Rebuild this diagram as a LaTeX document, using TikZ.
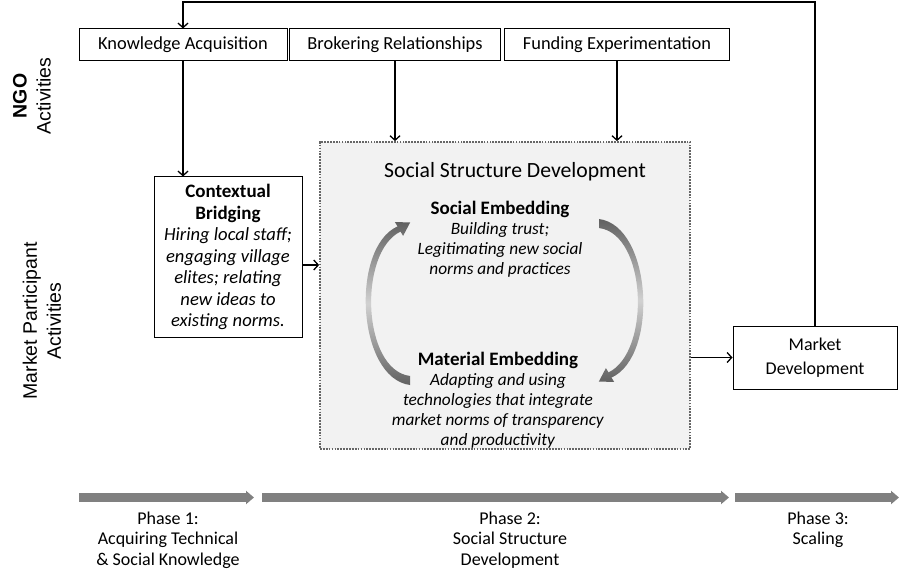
\documentclass[tikz,border=0pt]{standalone}
\usepackage{fontspec}
\setmainfont{Carlito}
\newfontfamily\arialf{Liberation Sans}
\usetikzlibrary{arrows.meta}
\newcommand{\bfl}[1]{{\fontsize{19}{20}\selectfont\bfseries #1}}
\begin{document}
\begin{tikzpicture}[x=1pt,y=-1pt,
  box/.style={draw,line width=1pt,fill=white,inner sep=0pt,align=center},
  topbox/.style={box,minimum height=32pt,font=\fontsize{18.4}{20}\selectfont},
  arr/.style={line width=1.3pt,-{Straight Barb[length=4.5pt,width=10pt,line width=1.3pt]}},
  phasearr/.style={line width=9pt,draw=black!50,-{Triangle[length=8pt,width=13pt]}},
  phaselbl/.style={align=center,font=\fontsize{18}{20.5}\selectfont},
  sidelbl/.style={rotate=90,align=center,font=\arialf\fontsize{19.5}{24}\selectfont},
  emb/.style={align=center,font=\fontsize{17.3}{20}\selectfont},
  crescent/.style={top color=black!62,bottom color=black!62,middle color=black!18}
]
\useasboundingbox (0,0) rectangle (900,580);

% side labels
\node[sidelbl] (ngo) at (32,96) {\textbf{NGO}\\Activities};
\node[sidelbl] (mpa) at (42,321) {Market Participant\\Activities};

% top boxes
\node[topbox,minimum width=208pt] (ka) at (183,45) {Knowledge Acquisition};
\node[topbox,minimum width=211pt] (br) at (395,45) {Brokering Relationships};
\node[topbox,minimum width=225pt] (fe) at (617,45) {Funding Experimentation};

% contextual bridging
\node[box,minimum width=148pt,minimum height=160pt,font=\fontsize{18.6}{21.5}\selectfont] (cb) at (228,257)
  {\bfl{Contextual}\\\bfl{Bridging}\\\textit{Hiring local staff;}\\\textit{engaging village}\\\textit{elites; relating}\\\textit{new ideas to}\\\textit{existing norms.}};

% social structure development box
\node[draw=black!60,fill=black!5,line width=1.8pt,dash pattern=on 1.7pt off 1.2pt,minimum width=370pt,minimum height=307pt,inner sep=0pt] (ssd) at (505,295.5) {};
\node[font=\fontsize{21.7}{24}\selectfont] (title) at (515,172) {Social Structure Development};
\node[emb] (se) at (500,239) {\bfl{Social Embedding}\\\textit{Building trust;}\\\textit{Legitimating new social}\\\textit{norms and practices}};
\node[emb] (me) at (498,400) {\bfl{Material Embedding}\\\textit{Adapting and using}\\\textit{technologies that integrate}\\\textit{market norms of transparency}\\\textit{and productivity}};

% circular arrows
\shade[crescent] (410,385) .. controls (357,378) and (350,248) .. (397.5,226.4) -- (394.9,222.1) -- (410.2,222.4) -- (403.1,235.9) -- (400.5,231.6) .. controls (358,252) and (362,370) .. (410,376) -- cycle;
\begin{scope}[rotate around={180:(504.5,302)}]
\shade[crescent] (410,385) .. controls (357,378) and (350,248) .. (397.5,226.4) -- (394.9,222.1) -- (410.2,222.4) -- (403.1,235.9) -- (400.5,231.6) .. controls (358,252) and (362,370) .. (410,376) -- cycle;
\end{scope}

% market development
\node[box,minimum width=164pt,minimum height=63pt,font=\fontsize{18}{24}\selectfont] (md) at (815,357.5) {Market\\Development};

% connectors
\draw[arr] (ka.south) -- (ka.south |- cb.north);
\draw[arr] (br.south) -- (br.south |- ssd.north);
\draw[arr] (fe.south) -- (fe.south |- ssd.north);
\draw[arr] (cb.east |- 0,265) -- (ssd.west |- 0,265);
\draw[arr] (ssd.east |- md.west) -- (md.west);
\coordinate (fbtop) at (500,2);
\draw[arr] (md.north) |- (fbtop) -| (ka.north);

% phase arrows
\coordinate (p1a) at (79,497.5);  \coordinate (p1b) at (254,497.5);
\coordinate (p2a) at (262,497.5); \coordinate (p2b) at (729,497.5);
\coordinate (p3a) at (735,497.5); \coordinate (p3b) at (899,497.5);
\draw[phasearr] (p1a) -- (p1b);
\draw[phasearr] (p2a) -- (p2b);
\draw[phasearr] (p3a) -- (p3b);

\node[phaselbl] (ph1) at (168,540) {Phase 1:\\Acquiring Technical\\\& Social Knowledge};
\node[phaselbl] (ph2) at (510,540) {Phase 2:\\Social Structure\\Development};
\node[phaselbl] (ph3) at (818,530) {Phase 3:\\Scaling};
\end{tikzpicture}
\end{document}
